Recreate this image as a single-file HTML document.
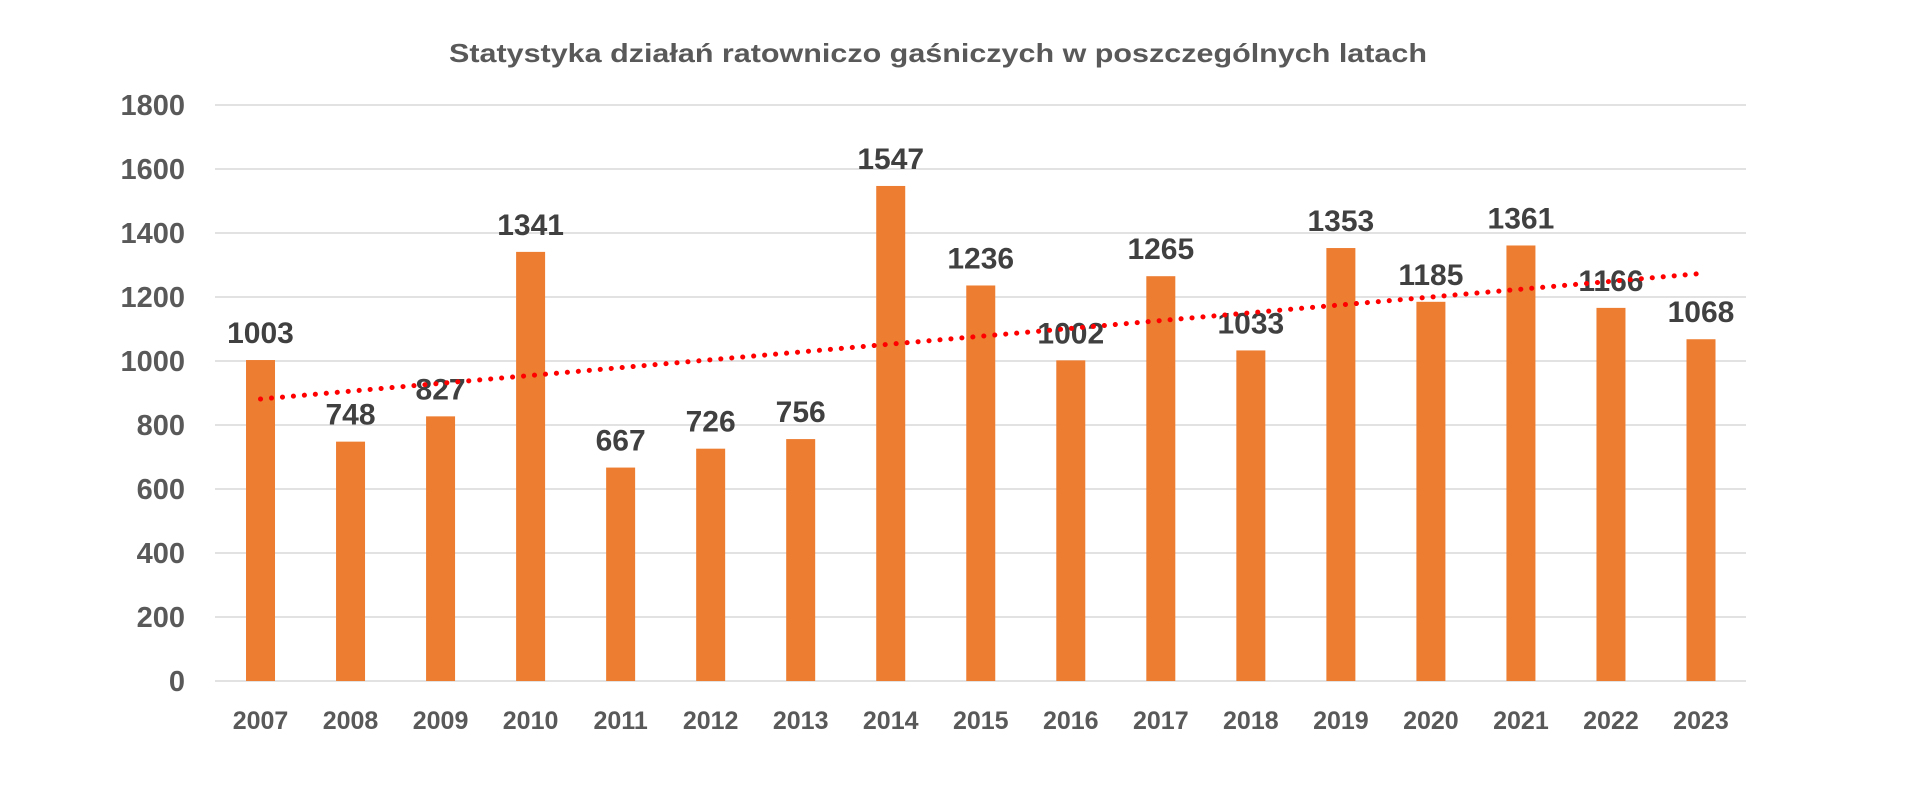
<!DOCTYPE html>
<html><head><meta charset="utf-8"><style>
html,body{margin:0;padding:0;background:#fff;}
svg{display:block;}
</style></head><body>
<svg width="1920" height="810" xmlns="http://www.w3.org/2000/svg" font-family="'Liberation Sans', sans-serif" font-weight="bold">
<rect width="1920" height="810" fill="#fff"/>
<text x="938" y="62" font-size="26" fill="#595959" text-anchor="middle" textLength="978" lengthAdjust="spacingAndGlyphs">Statystyka działań ratowniczo gaśniczych w poszczególnych latach</text>
<g stroke="#d9d9d9" stroke-width="1.5">
<line x1="215" y1="105" x2="1746" y2="105"/>
<line x1="215" y1="169" x2="1746" y2="169"/>
<line x1="215" y1="233" x2="1746" y2="233"/>
<line x1="215" y1="297" x2="1746" y2="297"/>
<line x1="215" y1="361" x2="1746" y2="361"/>
<line x1="215" y1="425" x2="1746" y2="425"/>
<line x1="215" y1="489" x2="1746" y2="489"/>
<line x1="215" y1="553" x2="1746" y2="553"/>
<line x1="215" y1="617" x2="1746" y2="617"/>
<line x1="215" y1="681" x2="1746" y2="681"/>
</g>
<g font-size="29" fill="#595959" text-anchor="end">
<text x="185" y="115">1800</text>
<text x="185" y="179">1600</text>
<text x="185" y="243">1400</text>
<text x="185" y="307">1200</text>
<text x="185" y="371">1000</text>
<text x="185" y="435">800</text>
<text x="185" y="499">600</text>
<text x="185" y="563">400</text>
<text x="185" y="627">200</text>
<text x="185" y="691">0</text>
</g>
<g id="bars" fill="#ed7d31"></g>
<g id="lbl" font-size="30" fill="#404040" text-anchor="middle"></g>
<g id="xl" font-size="25" fill="#595959" text-anchor="middle"></g>
<line x1="260.5" y1="399" x2="1701" y2="273.5" stroke="#ff0000" stroke-width="5" stroke-linecap="round" stroke-dasharray="0.1 10.9"/>
<script>
var v=[1003,748,827,1341,667,726,756,1547,1236,1002,1265,1033,1353,1185,1361,1166,1068];
var ns="http://www.w3.org/2000/svg",b=document.getElementById('bars'),l=document.getElementById('lbl'),x=document.getElementById('xl');
for(var i=0;i<17;i++){var c=215.5+90.03*(i+0.5),t=681-v[i]*0.32;
var r=document.createElementNS(ns,'rect');r.setAttribute('x',c-14.5);r.setAttribute('y',t);r.setAttribute('width',29);r.setAttribute('height',681-t);b.appendChild(r);
var s=document.createElementNS(ns,'text');s.setAttribute('x',c);s.setAttribute('y',t-17);s.textContent=v[i];l.appendChild(s);
var y=document.createElementNS(ns,'text');y.setAttribute('x',c);y.setAttribute('y',729);y.textContent=2007+i;x.appendChild(y);}
</script>
</svg>
</body></html>
